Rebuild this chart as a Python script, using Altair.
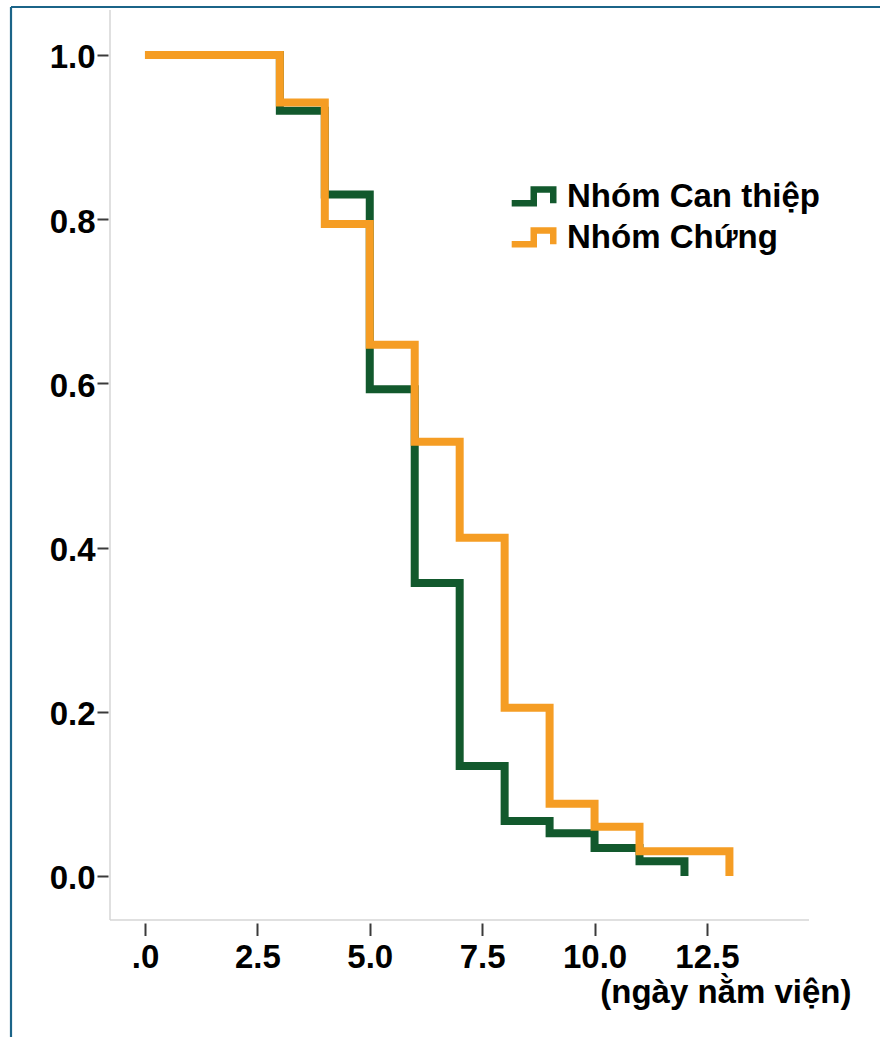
import altair as alt
import pandas as pd

# Kaplan-Meier style step curves: share of patients still hospitalised by day
groups = ["Nhóm Can thiệp", "Nhóm Chứng"]
colors = ["#12592d", "#f59d24"]

days_can_thiep = [0, 3, 4, 5, 6, 7, 8, 9, 10, 11, 12]
surv_can_thiep = [1.0, 0.932, 0.830, 0.593, 0.357, 0.134, 0.067, 0.052, 0.034, 0.018, 0.0]

days_chung = [0, 3, 4, 5, 6, 7, 8, 9, 10, 11, 13]
surv_chung = [1.0, 0.942, 0.794, 0.647, 0.529, 0.412, 0.205, 0.088, 0.060, 0.030, 0.0]

x_ticks = [0, 2.5, 5, 7.5, 10, 12.5]
y_ticks = [0.0, 0.2, 0.4, 0.6, 0.8, 1.0]
x_title = "(ngày nằm viện)"

W, H = 699, 910
FONT = "Liberation Sans"

df = pd.concat(
    [
        pd.DataFrame({"day": days_can_thiep, "surv": surv_can_thiep, "group": groups[0]}),
        pd.DataFrame({"day": days_chung, "surv": surv_chung, "group": groups[1]}),
    ],
    ignore_index=True,
)

legend_symbol = "M-1.52,0.45H-0.05V-0.47H1.25V0.45"

curves = (
    alt.Chart(df)
    .mark_line(interpolate="step-after", strokeWidth=8, strokeCap="butt", strokeJoin="miter")
    .encode(
        x=alt.X(
            "day:Q",
            scale=alt.Scale(domain=[-0.778, 14.77], nice=False, zero=False),
            axis=alt.Axis(
                values=x_ticks,
                labelExpr="datum.value == 0 ? '.0' : format(datum.value, '.1f')",
                domain=False,
                grid=False,
                offset=3,
                tickSize=12.5,
                tickWidth=2,
                tickColor="#3a3a3a",
                labelPadding=6,
                labelFontSize=33,
                labelFont=FONT,
                labelFontWeight="bold",
                labelColor="#000000",
                title=x_title,
                titleFont=FONT,
                titleFontSize=33,
                titleFontWeight="bold",
                titleColor="#000000",
                titleAlign="right",
                titleAnchor="end",
                titleBaseline="alphabetic",
                titleX=741,
                titleY=79,
            ),
        ),
        y=alt.Y(
            "surv:Q",
            scale=alt.Scale(domain=[-0.0536, 1.0548], nice=False, zero=False),
            axis=alt.Axis(
                values=y_ticks,
                format=".1f",
                domain=False,
                grid=False,
                offset=2,
                tickSize=11,
                tickWidth=2,
                tickColor="#3a3a3a",
                labelPadding=2,
                labelOffset=3,
                labelFontSize=33,
                labelFont=FONT,
                labelFontWeight="bold",
                labelColor="#000000",
                title=None,
            ),
        ),
        color=alt.Color(
            "group:N",
            scale=alt.Scale(domain=groups, range=colors),
            legend=alt.Legend(
                title=None,
                orient="none",
                legendX=406,
                legendY=168,
                padding=0,
                symbolType=legend_symbol,
                symbolSize=900,
                symbolStrokeWidth=6.5,
                symbolFillColor="transparent",
                labelOffset=14,
                labelLimit=0,
                labelFont=FONT,
                labelFontSize=33,
                labelFontWeight="bold",
                labelColor="#000000",
                rowPadding=0,
            ),
        ),
    )
)

# light grey axis lines along the left and bottom of the plot area
axis_lines = alt.layer(
    alt.Chart().mark_rule(color="#d6d6d6", strokeWidth=1.5).encode(
        x=alt.value(0), y=alt.value(0), y2=alt.value(H)
    ),
    alt.Chart().mark_rule(color="#d6d6d6", strokeWidth=1.5).encode(
        x=alt.value(0), x2=alt.value(W), y=alt.value(H)
    ),
)

# blue outer frame along the top and left edges
frame = alt.layer(
    alt.Chart().mark_rule(color="#1b6488", strokeWidth=2.2).encode(
        x=alt.value(-99), y=alt.value(-3), y2=alt.value(1040)
    ),
    alt.Chart().mark_rule(color="#1b6488", strokeWidth=2.2).encode(
        x=alt.value(-99), x2=alt.value(780), y=alt.value(-3)
    ),
)

chart = (
    alt.layer(axis_lines, curves, frame, data=pd.DataFrame({"_": [0]}))
    .properties(
        width=W,
        height=H,
        padding={"left": 110, "top": 10, "right": 71, "bottom": 117},
        autosize=alt.AutoSizeParams(type="none"),
        background="#ffffff",
    )
    .configure_view(stroke=None)
)

chart.save("out.html", embed_options={"renderer": "svg", "actions": False})
